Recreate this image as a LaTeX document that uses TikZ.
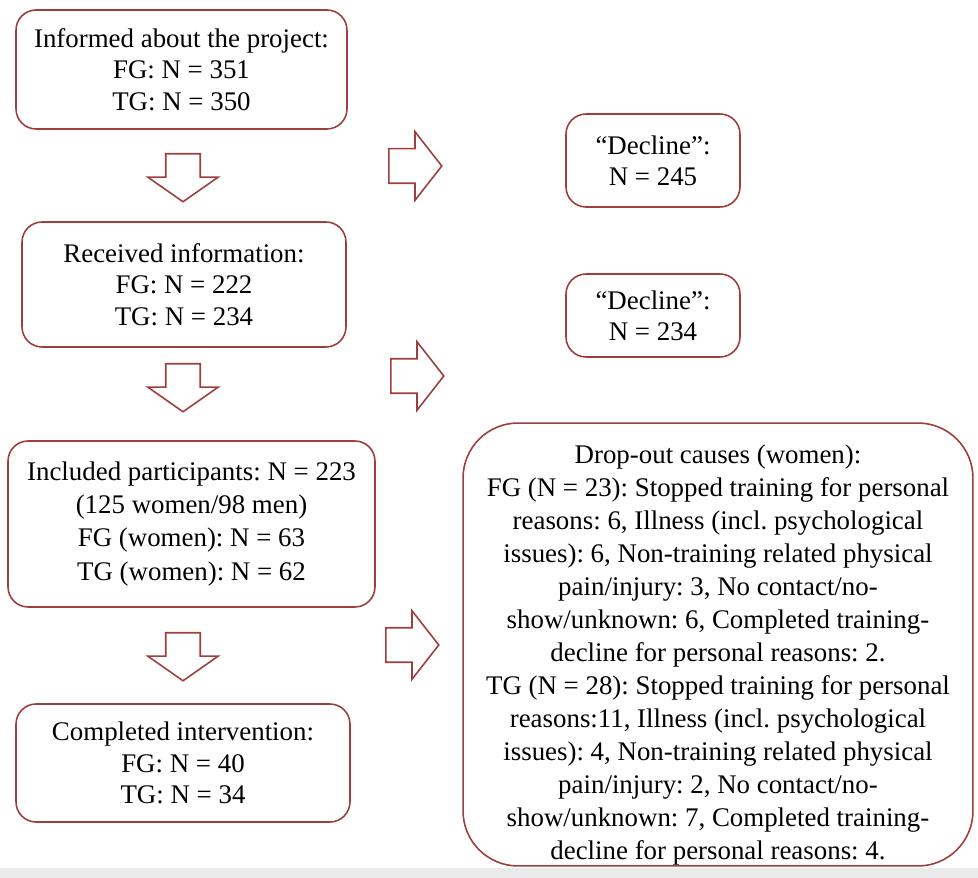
\documentclass[tikz,border=0pt]{standalone}
\usepackage{fontspec}
\setmainfont{Liberation Serif}
\usepackage{xcolor}
\usetikzlibrary{shapes,shapes.arrows,positioning}
\definecolor{boxred}{RGB}{158,62,62}
\definecolor{stripgray}{RGB}{234,234,234}
\frenchspacing

\begin{document}
\begin{tikzpicture}[x=0.02cm,y=-0.02cm]

\tikzset{flowbox/.style={
  rectangle, rounded corners=0.4cm,
  inner sep=0pt,
  align=center,
  draw=boxred, line width=0.9pt, fill=white,
  font=\fontsize{15.3}{17.8}\selectfont
  }}
\tikzset{downarrow/.style={
  single arrow, draw=boxred, line width=0.9pt, fill=white,
  inner xsep=0pt, inner ysep=0.33cm, minimum height=0.96cm, minimum width=1.38cm,
  single arrow head extend=0.36cm, single arrow tip angle=110,
  rotate=-90, anchor=tail
  }}
\tikzset{rightarrow/.style={
  single arrow, draw=boxred, line width=0.9pt, fill=white,
  inner xsep=0pt, inner ysep=0.33cm, minimum height=1.06cm, minimum width=1.34cm,
  single arrow head extend=0.34cm, single arrow tip angle=104,
  anchor=tail
  }}

\useasboundingbox (0,0) rectangle (978,878);
\fill[stripgray] (0,868) rectangle (978,878);

% left column
\node[flowbox, minimum width=6.62cm, minimum height=2.38cm] (informed) at (181.5,69.5)
  {Informed about the project:\\FG: N = 351\\TG: N = 350};
\node[flowbox, minimum width=6.48cm, minimum height=2.5cm] (received) at (184,284.5)
  {Received information:\\FG: N = 222\\TG: N = 234};
\node[flowbox, minimum width=7.34cm, minimum height=3.32cm,
  font=\fontsize{15.3}{18.8}\selectfont] (included) at (191.5,524)
  {Included participants: N = 223\\(125 women/98 men)\\FG (women): N = 63\\TG (women): N = 62};
\node[flowbox, minimum width=6.68cm, minimum height=2.36cm] (completed) at (183,763)
  {Completed intervention:\\FG: N = 40\\TG: N = 34};

\node[downarrow] (d1) at (183,153) {};
\node[downarrow] (d2) at (183,363) {};
\node[downarrow] (d3) at (183,632) {};

% right column
\node[rightarrow] (r1) at (388,166) {};
\node[rightarrow] (r2) at (390,376) {};
\node[rightarrow] (r3) at (385,645) {};

\node[flowbox, minimum width=3.48cm, minimum height=1.86cm] (decline1) at (653,160.5)
  {``Decline'':\\N = 245};
\node[flowbox, minimum width=3.48cm, minimum height=1.66cm] (decline2) at (653,315.5)
  {``Decline'':\\N = 234};

\node[flowbox, rounded corners=1.1cm, minimum width=10.2cm, minimum height=8.86cm]
  (dropout) at (718,644.5) {};
\node[align=center, inner sep=0pt, font=\fontsize{15.3}{18.8}\selectfont]
  (dropouttext) at (718,655)
  {Drop-out causes (women):\\
   FG (N = 23): Stopped training for personal\\
   reasons: 6, Illness (incl. psychological\\
   issues): 6, Non-training related physical\\
   pain/injury: 3, No contact/no-\\
   show/unknown: 6, Completed training-\\
   decline for personal reasons: 2.\\
   TG (N = 28): Stopped training for personal\\
   reasons:11, Illness (incl. psychological\\
   issues): 4, Non-training related physical\\
   pain/injury: 2, No contact/no-\\
   show/unknown: 7, Completed training-\\
   decline for personal reasons: 4.};

\end{tikzpicture}
\end{document}
